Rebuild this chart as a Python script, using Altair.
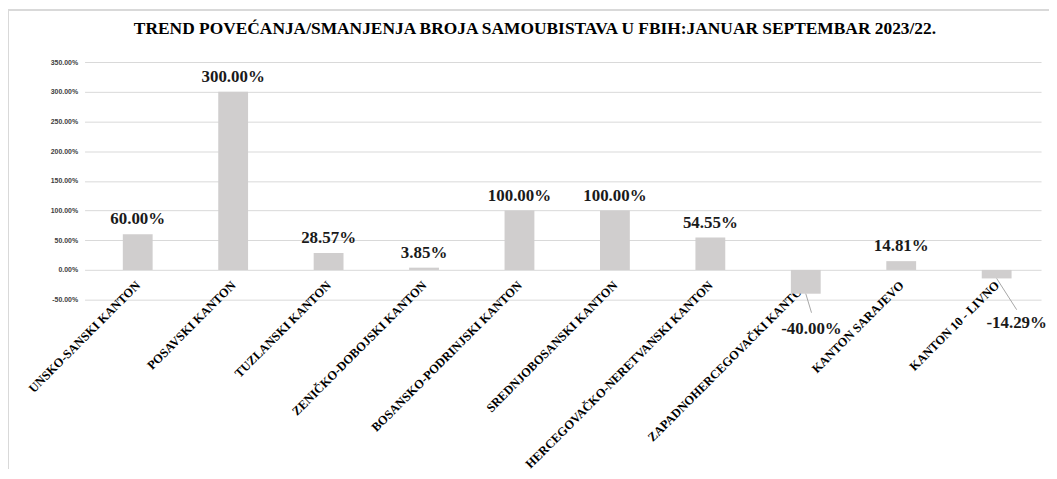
import json
import altair as alt
import pandas as pd

categories = [
    "UNSKO-SANSKI KANTON",
    "POSAVSKI KANTON",
    "TUZLANSKI KANTON",
    "ZENIČKO-DOBOJSKI KANTON",
    "BOSANSKO-PODRINJSKI KANTON",
    "SREDNJOBOSANSKI KANTON",
    "HERCEGOVAČKO-NERETVANSKI KANTON",
    "ZAPADNOHERCEGOVAČKI KANTON",
    "KANTON SARAJEVO",
    "KANTON 10 - LIVNO",
]
trend_pct = [60.00, 300.00, 28.57, 3.85, 100.00, 100.00, 54.55, -40.00, 14.81, -14.29]
y_ticks = [-50, 0, 50, 100, 150, 200, 250, 300, 350]
title_text = "TREND POVEĆANJA/SMANJENJA BROJA SAMOUBISTAVA U FBIH:JANUAR SEPTEMBAR 2023/22."

W, H = 962, 239
PAD = {"left": 77, "top": 53, "right": 8, "bottom": 170}

df = pd.DataFrame({"idx": list(range(len(categories))), "cat": categories, "value": trend_pct})
df["label"] = [f"{v:.2f}%" for v in trend_pct]

# callout placement for negative labels: (x shift in category units, leader end y, label y)
callout = {7: (0.06, -72, -100), 9: (0.21, -67, -90)}
neg = df[df["value"] < 0].copy()
neg["ex"] = [i + callout[i][0] for i in neg["idx"]]
neg["ey"] = [callout[i][1] for i in neg["idx"]]
neg["ly"] = [callout[i][2] for i in neg["idx"]]
pos = df[df["value"] >= 0]

xscale = alt.Scale(domain=[-0.505, 9.413], nice=False, zero=False)
yscale = alt.Scale(domain=[-50, 350], nice=False, zero=False)

cat_expr = json.dumps(categories, ensure_ascii=False) + "[datum.value]"

xaxis = alt.Axis(
    values=list(range(len(categories))),
    labelExpr=cat_expr,
    labelAngle=-45,
    labelAlign="right",
    labelBaseline="middle",
    labelPadding=13,
    offset=-30,
    domain=False,
    ticks=False,
    grid=False,
    labelFont="Liberation Serif",
    labelFontSize=12.5,
    labelFontWeight="bold",
    labelColor="#000000",
    labelOverlap=False,
    labelFlush=False,
    labelBound=False,
    labelLimit=0,
    title=None,
)
yaxis = alt.Axis(
    values=y_ticks,
    labelExpr="replace(format(datum.value, '.2f'), '\u2212', '-') + '%'",
    grid=True,
    gridColor="#d9d9d9",
    gridWidth=1,
    domain=False,
    ticks=False,
    labelFont="Liberation Sans",
    labelFontSize=7,
    labelFontWeight="bold",
    labelColor="#404040",
    labelPadding=7,
    labelOverlap=False,
    labelFlush=False,
    labelBound=False,
    title=None,
)

base = alt.Chart(df)

bars = base.mark_bar(size=30, color="#D0CECE").encode(
    x=alt.X("idx:Q", scale=xscale, axis=xaxis),
    y=alt.Y("value:Q", scale=yscale, axis=yaxis),
    y2=alt.datum(0),
)

text_style = dict(font="Liberation Serif", fontSize=17, fontWeight="bold", color="#1a1a1a",
                  baseline="middle", align="center")

pos_labels = alt.Chart(pos).mark_text(dy=-15, **text_style).encode(
    x=alt.X("idx:Q", scale=xscale, axis=xaxis),
    y=alt.Y("value:Q", scale=yscale, axis=yaxis),
    text="label:N",
)

leaders = alt.Chart(neg).mark_rule(color="#a6a6a6", strokeWidth=1).encode(
    x=alt.X("idx:Q", scale=xscale, axis=xaxis),
    x2="ex:Q",
    y=alt.Y("value:Q", scale=yscale, axis=yaxis),
    y2="ey:Q",
)

neg_labels = alt.Chart(neg).mark_text(**text_style).encode(
    x=alt.X("ex:Q", scale=xscale, axis=xaxis),
    y=alt.Y("ly:Q", scale=yscale, axis=yaxis),
    text="label:N",
)

frame_left = alt.Chart(df).mark_rule(color="#d9d9d9").encode(
    x=alt.value(-PAD["left"] + 0.5),
    y=alt.value(-PAD["top"]),
    y2=alt.value(H + PAD["bottom"]),
)
frame_top = alt.Chart(df).mark_rule(color="#d9d9d9").encode(
    x=alt.value(-PAD["left"]),
    x2=alt.value(W + PAD["right"]),
    y=alt.value(-PAD["top"] + 0.5),
)

chart = (
    alt.layer(frame_left, frame_top, bars, pos_labels, leaders, neg_labels)
    .properties(
        width=W,
        height=H,
        padding=PAD,
        autosize=alt.AutoSizeParams(type="none"),
        title=alt.TitleParams(
            text=title_text,
            font="Liberation Serif",
            fontSize=17.5,
            fontWeight="bold",
            color="#000000",
            anchor="middle",
            frame="group",
            offset=-43,
            baseline="alphabetic",
            dx=-28,
        ),
    )
    .configure_view(stroke=None)
    .configure_axis(labelOverlap=False)
)

chart.save("out.html", embed_options={"renderer": "svg", "actions": False})
